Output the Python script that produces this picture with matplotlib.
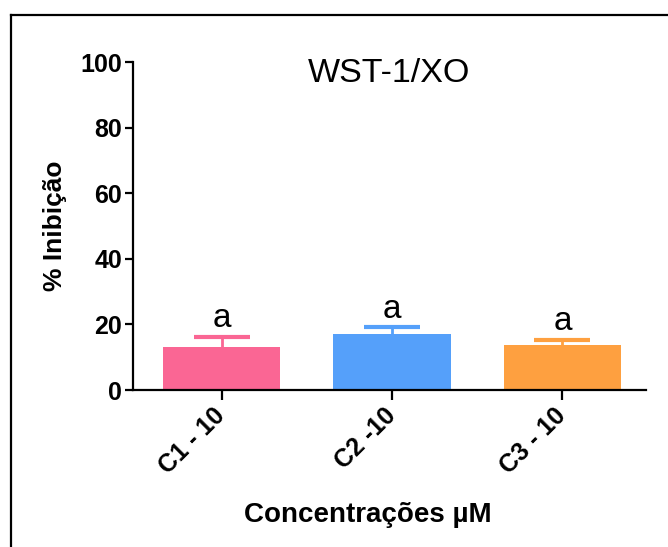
import matplotlib
matplotlib.use("Agg")
import matplotlib.pyplot as plt
from matplotlib.lines import Line2D

categories = ["C1 - 10", "C2 -10", "C3 - 10"]
values = [13.2, 17.1, 13.8]
errors = [3.0, 2.0, 1.4]
letters = ["a", "a", "a"]
colors = ["#FA6694", "#55A0FA", "#FEA040"]
yticks = [0, 20, 40, 60, 80, 100]

plt.rcParams['font.family'] = ['Liberation Sans', 'DejaVu Sans']

fig = plt.figure(figsize=(6.68, 5.47), dpi=100)
ax = fig.add_axes([133/668, 1-390/547, (646-133)/668, (390-62)/547])

x = list(range(len(categories)))
ax.bar(x, values, width=0.69, color=colors, zorder=2, linewidth=0)
for xi, v, e, c in zip(x, values, errors, colors):
    _, caps, _ = ax.errorbar(xi, v, yerr=[[0], [e]], fmt='none', ecolor=c,
                             elinewidth=2, capsize=20, capthick=3, zorder=3)
    for cl in caps:
        if abs(cl.get_ydata()[0] - v) < 1e-9:
            cl.set_visible(False)
for xi, v, e, t in zip(x, values, errors, letters):
    ax.annotate(t, (xi, v + e), xytext=(0, 2), textcoords='offset points',
                ha='center', va='bottom', fontsize=24)

ax.set_xlim(-0.52, 2.49)
ax.set_ylim(0, 100)
ax.set_yticks(yticks)
ax.set_yticklabels([str(t) for t in yticks], fontsize=18, fontweight='bold')
ax.set_xticks(x)
ax.set_xticklabels(categories, fontsize=18, fontweight='bold', rotation=45,
                   ha='right', va='center', rotation_mode='anchor')
for s in ['top', 'right']:
    ax.spines[s].set_visible(False)
for s in ['left', 'bottom']:
    ax.spines[s].set_linewidth(1.6)
ax.tick_params(axis='both', width=1.6, length=6, direction='out')
ax.tick_params(axis='x', length=7, pad=9)
ax.tick_params(axis='y', pad=2)

ax.set_ylabel("% Inibição", fontsize=19, fontweight='bold')
ax.yaxis.set_label_coords(-0.128, 0.5)
ax.set_xlabel("Concentrações µM", fontsize=20, fontweight='bold')
ax.xaxis.set_label_coords(0.457, -0.34)
ax.text(0.5, 1.012, "WST-1/XO", transform=ax.transAxes, ha='center', va='top',
        fontsize=24.5)

fig.add_artist(Line2D([11/668, 1.0], [1-15/547, 1-15/547], color='black', lw=1.6,
                      transform=fig.transFigure))
fig.add_artist(Line2D([11/668, 11/668], [1-15/547, 0], color='black', lw=1.6,
                      transform=fig.transFigure))

fig.savefig("out.png", dpi=100)
